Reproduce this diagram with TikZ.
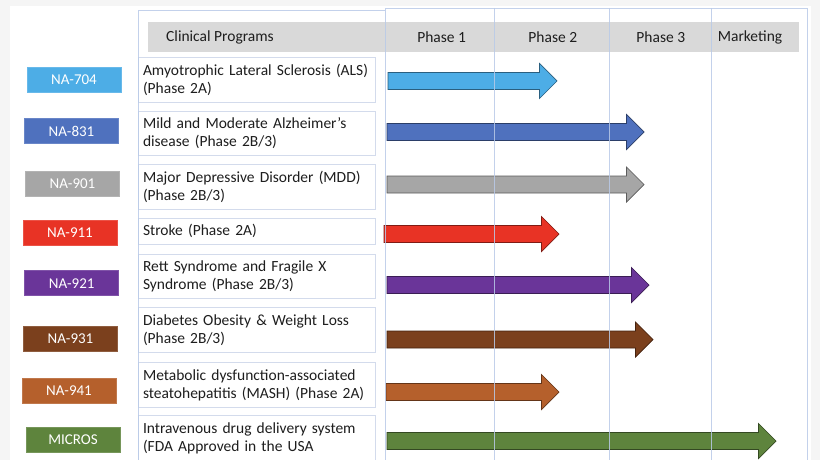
\documentclass[tikz,border=0pt]{standalone}
\usepackage{fontspec}
\setmainfont{Carlito}
\definecolor{bgout}{HTML}{F5F5F5}
\definecolor{gridc}{HTML}{B9CAE8}
\definecolor{headc}{HTML}{D9D9D9}
\definecolor{boxc}{HTML}{D3DBEC}
\definecolor{txtc}{HTML}{1E1E1E}
\definecolor{cA}{HTML}{4DADE6}
\definecolor{cB}{HTML}{4F71BE}
\definecolor{cC}{HTML}{A6A6A6}
\definecolor{cD}{HTML}{E83325}
\definecolor{cE}{HTML}{6A3599}
\definecolor{cF}{HTML}{7B401D}
\definecolor{cG}{HTML}{B5602C}
\definecolor{cH}{HTML}{5E843D}
\newcommand{\blockarrow}[4]{% color, x0, tip, yc
  \fill[#1, draw=#1!55!black, line width=0.7pt, line join=miter]
    (#2,#4-8.5) -- (#3-17.5,#4-8.5) -- (#3-17.5,#4-17.5) -- (#3,#4)
    -- (#3-17.5,#4+17.5) -- (#3-17.5,#4+8.5) -- (#2,#4+8.5) -- cycle;}
\begin{document}
\begin{tikzpicture}[x=1pt,y=-1pt,
  every node/.style={font=\fontsize{15.5}{18}\selectfont, text=txtc},
  lab/.style={minimum width=94pt, minimum height=25pt, inner sep=0pt, text=white, draw=#1!85!white, fill=#1, line width=0.6pt, font=\fontsize{15}{18}\selectfont},
  desc/.style={draw=boxc, fill=white, line width=0.8pt, minimum width=237pt, text width=228pt, inner xsep=4.5pt, inner ysep=0pt, align=left},
  hdr/.style={inner sep=0pt}]
\useasboundingbox (0,0) rectangle (820,460);
\fill[bgout] (0,0) rectangle (820,460);
\fill[white] (10,6) rectangle (811,470);
% header bar
\fill[headc] (148,22) rectangle (799,52);
\node[hdr, anchor=west] (hcp) at (166,37) {Clinical Programs};
\node[hdr] (hp1) at (441.7,37) {Phase 1};
\node[hdr] (hp2) at (552.8,37) {Phase 2};
\node[hdr] (hp3) at (660.8,37) {Phase 3};
\node[hdr] (hmk) at (750,37) {Marketing};
% description boxes
\node[desc, minimum height=44.6pt] (d1) at (257,80) {Amyotrophic Lateral Sclerosis (ALS)\\(Phase 2A)};
\node[desc, minimum height=44pt] (d2) at (257,133) {Mild and Moderate Alzheimer’s\\disease (Phase 2B/3)};
\node[desc, minimum height=45pt] (d3) at (257,186.5) {Major Depressive Disorder (MDD)\\(Phase 2B/3)};
\node[desc, minimum height=26pt] (d4) at (257,231.3) {Stroke (Phase 2A)};
\node[desc, minimum height=44.3pt] (d5) at (257,276.2) {Rett Syndrome and Fragile X\\Syndrome (Phase 2B/3)};
\node[desc, minimum height=45pt] (d6) at (257,330.2) {Diabetes Obesity \& Weight Loss\\(Phase 2B/3)};
\node[desc, minimum height=45.4pt] (d7) at (257,385) {Metabolic dysfunction-associated\\steatohepatitis (MASH) (Phase 2A)};
\node[desc, minimum height=46pt] (d8) at (257,438.7) {Intravenous drug delivery system\\(FDA Approved in the USA};
% labels
\node[lab=cA] (l1) at (74,79.5) {NA-704};
\node[lab=cB] (l2) at (71.5,131.2) {NA-831};
\node[lab=cC] (l3) at (72.5,183.3) {NA-901};
\node[lab=cD] (l4) at (70,232.5) {NA-911};
\node[lab=cE] (l5) at (71.7,283.2) {NA-921};
\node[lab=cF] (l6) at (70.5,338.8) {NA-931};
\node[lab=cG] (l7) at (69,391) {NA-941};
\node[lab=cH] (l8) at (73,439.7) {MICROS};
% arrows
\blockarrow{cA}{388}{557}{81}
\blockarrow{cB}{387}{644}{132}
\blockarrow{cC}{387}{644}{184.5}
\blockarrow{cD}{384}{559}{234}
\blockarrow{cE}{387}{649}{285}
\blockarrow{cF}{387}{653}{339.5}
\blockarrow{cG}{386}{559}{392}
\blockarrow{cH}{387}{776}{441}
% grid
\begin{scope}[draw=gridc, line width=0.9pt, opacity=0.85]
\draw (138.5,470) -- (138.5,10) -- (385,10);
\draw (385,470) -- (385,8) -- (807,8) -- (807,470);
\draw (494,8) -- (494,470);
\draw (609,8) -- (609,470);
\draw (711,8) -- (711,470);
\end{scope}
\end{tikzpicture}
\end{document}
